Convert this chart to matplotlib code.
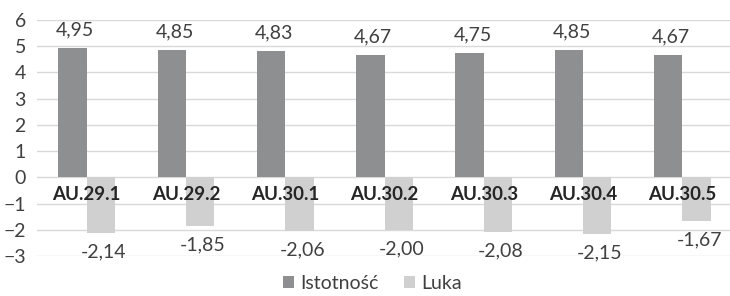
import numpy as np
import matplotlib.pyplot as plt

plt.rcParams['font.family'] = ['Lato', 'DejaVu Sans']

# data
categories = ['AU.29.1', 'AU.29.2', 'AU.30.1', 'AU.30.2', 'AU.30.3', 'AU.30.4', 'AU.30.5']
istotnosc = [4.95, 4.85, 4.83, 4.67, 4.75, 4.85, 4.67]
luka = [-2.14, -1.85, -2.06, -2.00, -2.08, -2.15, -1.67]
y_ticks = [-3, -2, -1, 0, 1, 2, 3, 4, 5, 6]

dark = '#8e8f91'
light = '#d0d0d0'
text_col = '#404040'
fs = 14

fig = plt.figure(figsize=(7.3, 2.96), dpi=100)
ax = fig.add_axes([37 / 730, 1 - 256 / 296, 695 / 730, 236 / 296])

x = np.arange(len(categories))
w = 0.285
b1 = ax.bar(x - w / 2, istotnosc, w, color=dark, label='Istotność', zorder=2)
b2 = ax.bar(x + w / 2, luka, w, color=light, label='Luka', zorder=2)

# value labels
for rect, v in zip(b1, istotnosc):
    ax.annotate(f'{v:.2f}'.replace('.', ','), (rect.get_x() + rect.get_width() / 2, v),
                xytext=(2, 13), textcoords='offset points', ha='center', va='center',
                fontsize=fs, color=text_col)
for rect, v in zip(b2, luka):
    ax.annotate(f'{v:.2f}'.replace('.', ','), (rect.get_x() + rect.get_width() / 2, v),
                xytext=(2, -13.5), textcoords='offset points', ha='center', va='center',
                fontsize=fs, color=text_col)

# category labels across the zero line
for i, c in enumerate(categories):
    ax.annotate(c, (i, 0), xytext=(0, -12), textcoords='offset points', ha='center',
                va='center', fontsize=13.5, fontweight='bold', color='#262626', zorder=4)

ax.set_xlim(-0.5, len(categories) - 0.5)
ax.set_ylim(-3, 6)
ax.set_yticks(y_ticks)
ax.set_xticks([])
ax.grid(axis='y', color='#d9d9d9', linewidth=1, zorder=0)
ax.set_axisbelow(True)
ax.tick_params(axis='y', length=0, pad=8, labelsize=fs, labelcolor=text_col)
for s in ax.spines.values():
    s.set_visible(False)

fig.legend(handles=[b1, b2], loc='lower center', bbox_to_anchor=(0.51, -0.045), ncol=2,
           frameon=False, fontsize=fs, handlelength=0.6, handleheight=0.6,
           handletextpad=0.3, columnspacing=1.3, labelcolor=text_col)

fig.savefig('out.png', dpi=100)
